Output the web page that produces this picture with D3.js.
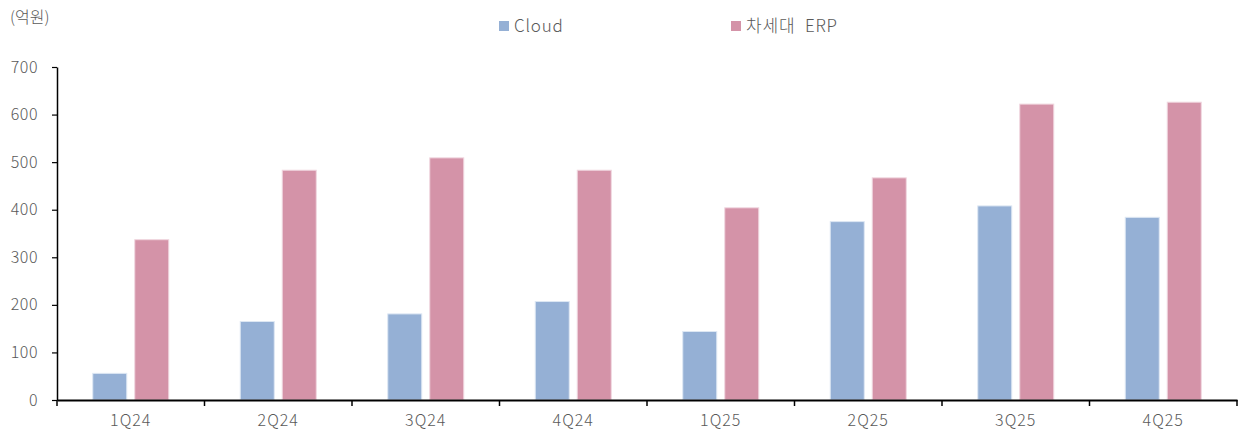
<!DOCTYPE html>
<html><head><meta charset="utf-8">
<script src="https://cdn.jsdelivr.net/npm/d3@7"></script>
<style>body{margin:0;background:#fff}svg{display:block}text{font-family:"Noto Sans CJK KR","Noto Sans",sans-serif;font-weight:300}</style>
</head><body>
<script>
const categories = ["1Q24","2Q24","3Q24","4Q24","1Q25","2Q25","3Q25","4Q25"];
const cloud = [56,165,181,207,144,375,408,384];
const erp = [337,483,509,483,404,467,622,626];
const seriesNames = ["Cloud","차세대 ERP"];
const yTicks = [0,100,200,300,400,500,600,700];
const colors = ["#95B0D5","#D493A8"];

const W=1241,H=435;
const svg=d3.select("body").append("svg").attr("width",W).attr("height",H);
const x=d3.scaleBand().domain(categories).range([57,1237]).paddingInner(0).paddingOuter(0);
const y=d3.scaleLinear().domain([0,700]).range([400,67]);
const barW=34, gap=8;

const g=svg.append("g");
categories.forEach((c,i)=>{
  const cx=x(c)+x.bandwidth()/2;
  [cloud[i],erp[i]].forEach((v,j)=>{
    const x0 = j===0 ? cx-gap/2-barW : cx+gap/2;
    g.append("rect").attr("x",x0).attr("y",y(v)).attr("width",barW).attr("height",y(0)-y(v))
     .attr("fill",colors[j]).attr("stroke",j===0?"#dde7f3":"#f0d6df").attr("stroke-width",1);
  });
});

// y axis
const ya=svg.append("g").attr("transform","translate(57,0)")
  .call(d3.axisLeft(y).tickValues(yTicks).tickSize(5).tickPadding(14).tickSizeOuter(0));
ya.select(".domain").attr("stroke","#000").attr("stroke-width",1.5);
ya.selectAll(".tick line").attr("stroke","#000").attr("stroke-width",1.2);
ya.selectAll("text").attr("fill","#595959").style("font-size","16px").style("letter-spacing","0.5px");

// x axis
const xa=svg.append("g").attr("transform","translate(0,400)")
  .call(d3.axisBottom(x).tickSize(0).tickPadding(15));
xa.select(".domain").attr("stroke","#000").attr("stroke-width",2);
xa.selectAll("text").attr("fill","#595959").style("font-size","16px").style("letter-spacing","1px");
const bounds=categories.map(c=>x(c)).concat([x.range()[1]]);
svg.append("g").selectAll("line").data(bounds).join("line")
  .attr("x1",d=>d).attr("x2",d=>d).attr("y1",400).attr("y2",406)
  .attr("stroke","#000").attr("stroke-width",1.5);

// unit
svg.append("text").attr("x",10).attr("y",23).attr("fill","#595959").style("font-size","16px").text("(억원)");

// legend
const lx=[499,731];
seriesNames.forEach((n,i)=>{
  svg.append("rect").attr("x",lx[i]).attr("y",21).attr("width",10).attr("height",10).attr("fill",colors[i]);
  svg.append("text").attr("x",lx[i]+15).attr("y",32).attr("fill","#595959").style("font-size","17px")
    .style("letter-spacing","0.8px").style("word-spacing","5px").text(n);
});
</script>
</body></html>
